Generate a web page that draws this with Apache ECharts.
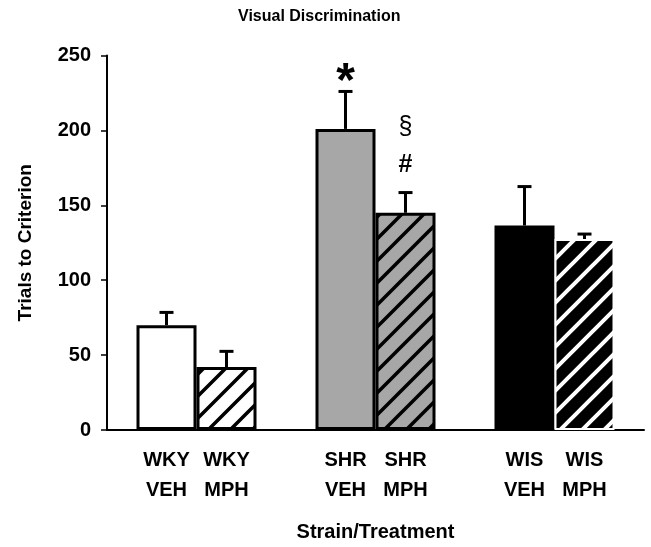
<!DOCTYPE html>
<html>
<head>
<meta charset="utf-8">
<script src="https://cdn.jsdelivr.net/npm/echarts@6/dist/echarts.min.js"></script>
<style>
  html, body { margin: 0; padding: 0; background: #fff; }
  #chart { width: 651px; height: 547px; }
</style>
</head>
<body>
<div id="chart"></div>
<script>
// values
const strains = ['WKY', 'SHR', 'WIS'];
const treatments = ['VEH', 'MPH'];
const vehMeans = [70, 201, 136.5];
const vehSem = [8.5, 25, 26];
const mphMeans = [42, 145, 127.5];
const mphSem = [10.5, 13.5, 3.3];

// significance marks: strain index, treatment index, height, symbol
const markStrain = [1, 1, 1];
const markTreat = [0, 1, 1];
const markValue = [240, 202.5, 177];
const markText = ['*', '§', '#'];

const FONT = '"Liberation Sans", Arial, sans-serif';
const BAR_W = 60;

// diagonal hatch as canvas pattern
function hatch(bg, fg, lw) {
  const s = 22;
  const c = document.createElement('canvas');
  c.width = s; c.height = s;
  const ctx = c.getContext('2d');
  ctx.fillStyle = bg;
  ctx.fillRect(0, 0, s, s);
  ctx.strokeStyle = fg;
  ctx.lineWidth = lw;
  ctx.beginPath();
  ctx.moveTo(-3, 3); ctx.lineTo(3, -3);
  ctx.moveTo(-1, s + 1); ctx.lineTo(s + 1, -1);
  ctx.moveTo(s - 3, s + 3); ctx.lineTo(s + 3, s - 3);
  ctx.stroke();
  return { image: c, repeat: 'repeat' };
}

const vehStyle = [
  { color: '#fff', borderColor: '#000', borderWidth: 3 },
  { color: '#a7a7a7', borderColor: '#000', borderWidth: 3 },
  { color: '#000', borderColor: '#000', borderWidth: 3 }
];
const mphStyle = [
  { color: hatch('#fff', '#000', 3.5), borderColor: '#000', borderWidth: 3 },
  { color: hatch('#a7a7a7', '#000', 3.5), borderColor: '#000', borderWidth: 3 },
  { color: hatch('#000', '#fff', 4), borderColor: '#fff', borderWidth: 2 }
];

function barLabel(treat) {
  return {
    show: true,
    position: ['50%', '100%'],
    align: 'center',
    verticalAlign: 'top',
    offset: [0, 15],
    formatter: p => p.name + '\n' + treat,
    color: '#000',
    fontFamily: FONT,
    fontWeight: 'bold',
    fontSize: 20,
    lineHeight: 30
  };
}

// error bars (upper only)
const errData = [];
strains.forEach((s, i) => {
  errData.push([i, vehMeans[i], vehSem[i], -1]);
  errData.push([i, mphMeans[i], mphSem[i], 1]);
});

const markData = markValue.map((v, i) => [markStrain[i], v, markTreat[i] === 0 ? -1 : 1]);

let chartDom = document.getElementById('chart');
let myChart = echarts.init(chartDom);
let option;

option = {
  animation: false,
  title: {
    text: 'Visual Discrimination',
    left: 238,
    top: 9,
    padding: 0,
    textStyle: { fontFamily: FONT, fontSize: 16, fontWeight: 'bold', color: '#000' }
  },
  grid: {
    left: 107,
    right: 7,
    top: 55.5,
    bottom: 117,
    outerBoundsMode: 'none'
  },
  xAxis: {
    type: 'category',
    data: strains,
    name: 'Strain/Treatment',
    nameLocation: 'middle',
    nameGap: 92,
    nameTextStyle: { fontFamily: FONT, fontSize: 20, fontWeight: 'bold', color: '#000' },
    axisLine: { lineStyle: { color: '#000', width: 2 } },
    axisTick: { show: false },
    axisLabel: { show: false },
    splitLine: { show: false }
  },
  yAxis: {
    type: 'value',
    min: 0,
    max: 250,
    interval: 50,
    name: 'Trials to Criterion',
    nameLocation: 'middle',
    nameGap: 72,
    nameTextStyle: { fontFamily: FONT, fontSize: 19, fontWeight: 'bold', color: '#000' },
    axisLine: { show: true, lineStyle: { color: '#000', width: 2 } },
    axisTick: { show: true, length: 6, lineStyle: { color: '#000', width: 1.5 } },
    axisLabel: { margin: 16, fontFamily: FONT, fontSize: 20, fontWeight: 'bold', color: '#000' },
    splitLine: { show: false }
  },
  series: [
    {
      name: treatments[0],
      type: 'bar',
      barWidth: BAR_W,
      barGap: '0%',
      data: vehMeans.map((v, i) => ({ value: v, itemStyle: vehStyle[i] })),
      label: barLabel(treatments[0])
    },
    {
      name: treatments[1],
      type: 'bar',
      barWidth: BAR_W,
      barGap: '0%',
      data: mphMeans.map((v, i) => ({ value: v, itemStyle: mphStyle[i] })),
      label: barLabel(treatments[1])
    },
    {
      type: 'custom',
      z: 5,
      data: errData,
      renderItem: function (params, api) {
        const base = api.coord([api.value(0), api.value(1)]);
        const top = api.coord([api.value(0), api.value(1) + api.value(2)]);
        const x = base[0] + api.value(3) * BAR_W / 2;
        const st = { stroke: '#000', lineWidth: 3 };
        return {
          type: 'group',
          children: [
            { type: 'line', shape: { x1: x, y1: base[1], x2: x, y2: top[1] }, style: st },
            { type: 'line', shape: { x1: x - 7, y1: top[1], x2: x + 7, y2: top[1] }, style: st }
          ]
        };
      }
    },
    {
      type: 'custom',
      z: 6,
      data: markData,
      renderItem: function (params, api) {
        const p = api.coord([api.value(0), api.value(1)]);
        const x = p[0] + api.value(2) * BAR_W / 2;
        const t = markText[params.dataIndex];
        const big = t === '*';
        return {
          type: 'text',
          x: x,
          y: big ? p[1] + 12 : p[1],
          style: {
            text: t,
            fill: '#000',
            font: (t === '§' ? 'normal ' : 'bold ') + (big ? 48 : 25) + 'px ' + FONT,
            align: 'center',
            verticalAlign: 'middle'
          }
        };
      }
    }
  ]
};

option && myChart.setOption(option);
</script>
</body>
</html>
